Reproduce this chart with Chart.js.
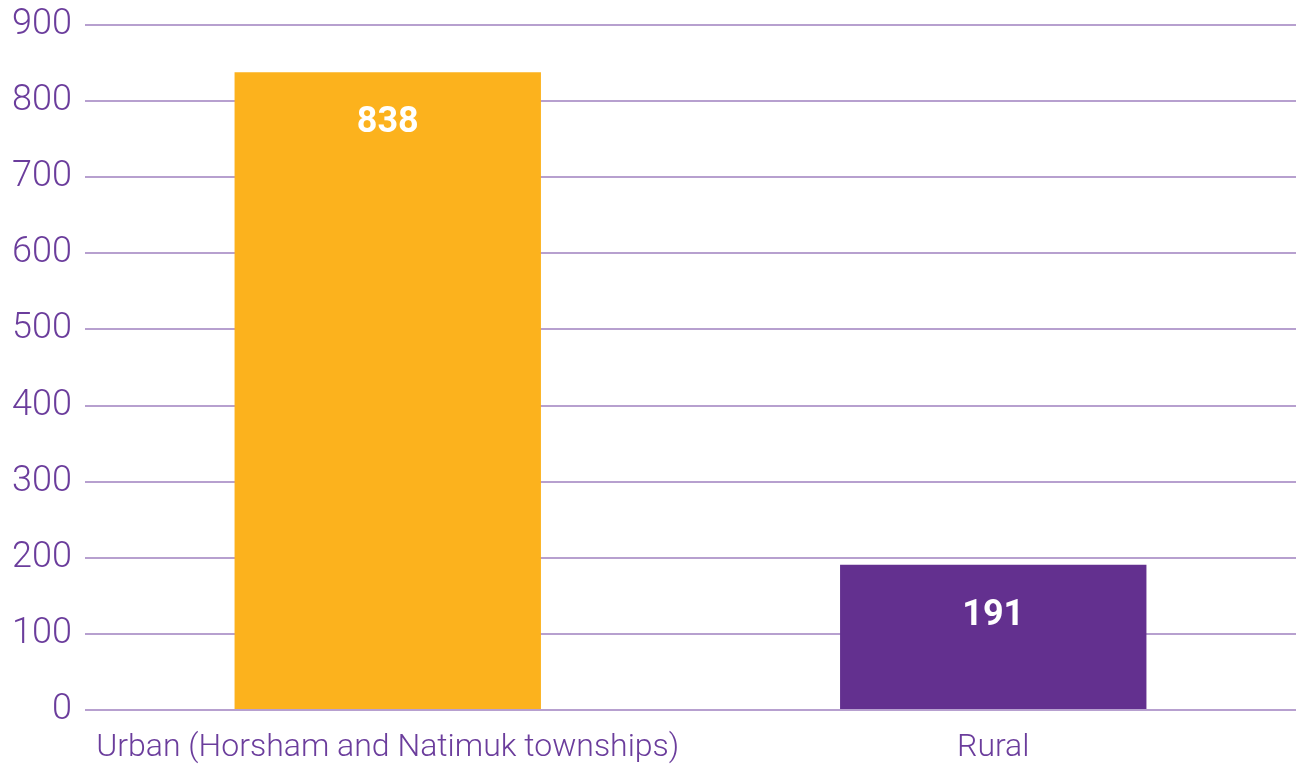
<!DOCTYPE html>
<html>
<head>
<meta charset="utf-8">
<script src="https://cdn.jsdelivr.net/npm/chart.js@4/dist/chart.umd.min.js"></script>
<style>
  html, body { margin: 0; padding: 0; background: #fff; }
  #wrap { width: 1296px; height: 764px; position: relative; }
</style>
</head>
<body>
<div id="wrap"><canvas id="dwellingChart"></canvas></div>
<script>
// data
const categories = ['Urban (Horsham and Natimuk townships)', 'Rural'];
const counts = [838, 191];
const barColours = ['#fcb21d', '#63308f'];
const yTicks = [0, 100, 200, 300, 400, 500, 600, 700, 800, 900];

const purple = '#6b3d9c';
const gridPurple = '#b7a0cf';

// white value labels inside the bars
const valueLabels = {
  id: 'valueLabels',
  afterDatasetsDraw(chart) {
    const c = chart.ctx;
    const meta = chart.getDatasetMeta(0);
    c.save();
    c.fillStyle = '#fff';
    c.font = 'bold 36px Roboto';
    c.textAlign = 'center';
    c.textBaseline = 'middle';
    meta.data.forEach((bar, i) => {
      c.fillText(String(counts[i]), bar.x, bar.y + 51);
    });
    c.restore();
  }
};

const ctx = document.getElementById('dwellingChart').getContext('2d');

const dwellingChart = new Chart(ctx, {
  type: 'bar',
  data: {
    labels: categories,
    datasets: [{
      data: counts,
      backgroundColor: barColours,
      barPercentage: 0.506,
      categoryPercentage: 1
    }]
  },
  options: {
    responsive: true,
    maintainAspectRatio: false,
    animation: false,
    layout: { padding: { top: 25, right: 0, left: 0, bottom: 0 } },
    plugins: {
      legend: { display: false },
      tooltip: { enabled: false }
    },
    scales: {
      x: {
        grid: { display: false },
        border: { display: false },
        afterFit(scale) {
          scale.height = 54;
          scale.paddingLeft = 0;
          scale.paddingRight = 0;
        },
        ticks: {
          color: purple,
          font: { family: 'Roboto', weight: '300', size: 32 },
          padding: 11,
          maxRotation: 0
        }
      },
      y: {
        min: 0,
        max: yTicks[yTicks.length - 1],
        afterBuildTicks(axis) {
          axis.ticks = yTicks.map(v => ({ value: v }));
        },
        afterFit(scale) {
          scale.width = 85;
          scale.paddingTop = 0;
          scale.paddingBottom = 0;
        },
        grid: { color: gridPurple, lineWidth: 2, drawTicks: false },
        border: { display: false },
        ticks: {
          color: purple,
          font: { family: 'Roboto', weight: '300', size: 36 },
          padding: 13
        }
      }
    }
  },
  plugins: [valueLabels]
});
</script>
</body>
</html>
